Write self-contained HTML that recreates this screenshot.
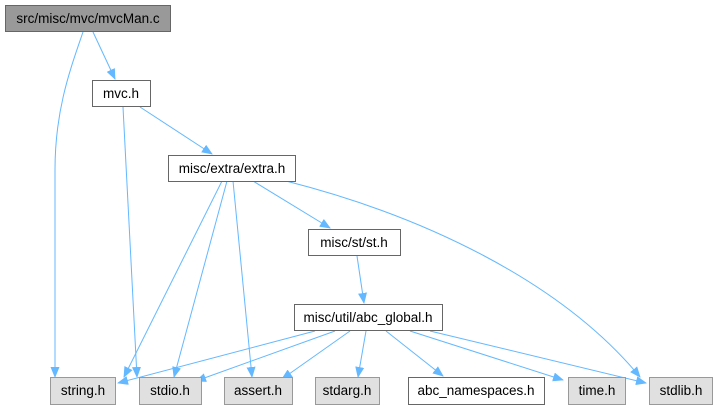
<!DOCTYPE html>
<html><head><style>
body{margin:0;background:#fff;}
svg text{font-family:"Liberation Sans",Arial,sans-serif;font-size:13.5px;text-anchor:middle;fill:#000;}
</style></head><body>
<svg width="716" height="411" viewBox="0 0 716 411" xmlns="http://www.w3.org/2000/svg">
<defs><marker id="a" markerWidth="11" markerHeight="9" refX="10" refY="4.5" orient="auto" markerUnits="userSpaceOnUse"><path d="M0,0 L11,4.5 L0,9 z" fill="#63b8ff"/></marker></defs>
<g stroke="#63b8ff" stroke-width="1" fill="none" marker-end="url(#a)">
<path d="M83,32 C70,70 55,110 55,170 L55,377"/>
<path d="M93,32 L115,79"/>
<path d="M123,107 L137,377"/>
<path d="M140,107 L212,154"/>
<path d="M222,181 L124,377"/>
<path d="M227,181 L174,377"/>
<path d="M233,181 L252,377"/>
<path d="M253,181 L330,228"/>
<path d="M286,181 C420,215 560,280 640,377"/>
<path d="M357,256 L364,303"/>
<path d="M315,331 L118,383"/>
<path d="M335,331 L196,381"/>
<path d="M350,331 L282,379"/>
<path d="M366,331 L358,377"/>
<path d="M386,331 L443,376"/>
<path d="M410,331 L563,380"/>
<path d="M430,331 L646,383"/>
</g>
<g stroke-width="1">
<rect x="5.5" y="5.5" width="165" height="26" fill="#999" stroke="#666"/>
<rect x="92.5" y="80.5" width="58" height="26" fill="#fff" stroke="#666"/>
<rect x="168.5" y="155.5" width="127" height="26" fill="#fff" stroke="#666"/>
<rect x="308.5" y="229.5" width="92" height="26" fill="#fff" stroke="#666"/>
<rect x="294.5" y="304.5" width="148" height="26" fill="#fff" stroke="#666"/>
<rect x="50.5" y="377.5" width="65" height="27" fill="#e0e0e0" stroke="#999"/>
<rect x="139.5" y="377.5" width="62" height="27" fill="#e0e0e0" stroke="#999"/>
<rect x="224.5" y="377.5" width="68" height="27" fill="#e0e0e0" stroke="#999"/>
<rect x="315.5" y="377.5" width="64" height="27" fill="#e0e0e0" stroke="#999"/>
<rect x="408.5" y="377.5" width="136" height="27" fill="#fff" stroke="#666"/>
<rect x="568.5" y="377.5" width="57" height="27" fill="#e0e0e0" stroke="#999"/>
<rect x="649.5" y="377.5" width="63" height="27" fill="#e0e0e0" stroke="#999"/>
</g>
<text x="88" y="23">src/misc/mvc/mvcMan.c</text>
<text x="121" y="98">mvc.h</text>
<text x="232" y="173">misc/extra/extra.h</text>
<text x="354" y="247">misc/st/st.h</text>
<text x="368" y="322">misc/util/abc_global.h</text>
<text x="83" y="395">string.h</text>
<text x="170" y="395">stdio.h</text>
<text x="258" y="395">assert.h</text>
<text x="347" y="395">stdarg.h</text>
<text x="476" y="395">abc_namespaces.h</text>
<text x="597" y="395">time.h</text>
<text x="681" y="395">stdlib.h</text>
</svg>
</body></html>
